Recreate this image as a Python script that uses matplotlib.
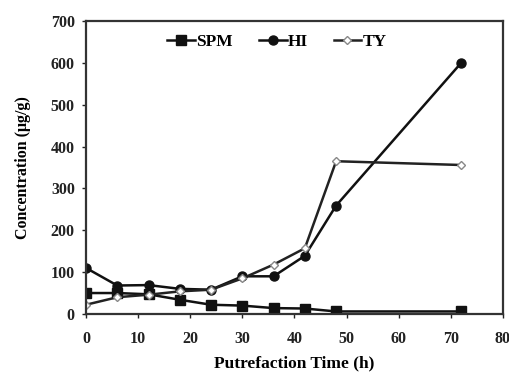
import matplotlib
matplotlib.use("Agg")
import matplotlib.pyplot as plt

time_h = [0, 6, 12, 18, 24, 30, 36, 42, 48, 72]
spm = [50, 50, 47, 34, 22, 20, 14, 13, 6, 6]
hi = [110, 68, 69, 60, 58, 90, 90, 139, 259, 600]
ty = [22, 40, 46, 54, 58, 85, 118, 157, 365, 356]

plt.rcParams['font.family'] = ['Liberation Serif', 'DejaVu Serif']
plt.rcParams['font.weight'] = 'bold'

fig = plt.figure(figsize=(5.1, 3.76), dpi=100)
ax = fig.add_axes([0.1686, 0.165, 0.8174, 0.779])

lc = '#111111'
ax.plot(time_h, spm, '-', color=lc, lw=1.8, marker='s', ms=6.5, mfc=lc, mec=lc, label='SPM')
ax.plot(time_h, hi, '-', color=lc, lw=1.8, marker='o', ms=6.5, mfc=lc, mec=lc, label='HI')
ax.plot(time_h, ty, '-', color='#222222', lw=1.8, marker='D', ms=4, mfc='white', mec='#888888', label='TY')

ax.set_xlim(0, 80)
ax.set_ylim(0, 700)
ax.set_xticks(range(0, 81, 10))
ax.set_yticks(range(0, 701, 100))
ax.tick_params(direction='out', length=3, width=1, labelsize=11.5, colors='#222222')
ax.tick_params(axis='x', pad=9)
ax.tick_params(axis='y', pad=5)
for s in ax.spines.values():
    s.set_linewidth(1.6)
    s.set_color('#333333')

ax.set_xlabel('Putrefaction Time (h)', fontsize=12.5, fontweight='bold', labelpad=6)
ax.set_ylabel('Concentration (μg/g)', fontsize=11.5, fontweight='bold', labelpad=14)

leg = ax.legend(loc='center', bbox_to_anchor=(0.458, 0.928), ncol=3, frameon=False,
                handlelength=1.6, columnspacing=1.5, handletextpad=0.05,
                prop={'weight': 'bold', 'size': 12.5})

fig.savefig('out.png', dpi=100)
